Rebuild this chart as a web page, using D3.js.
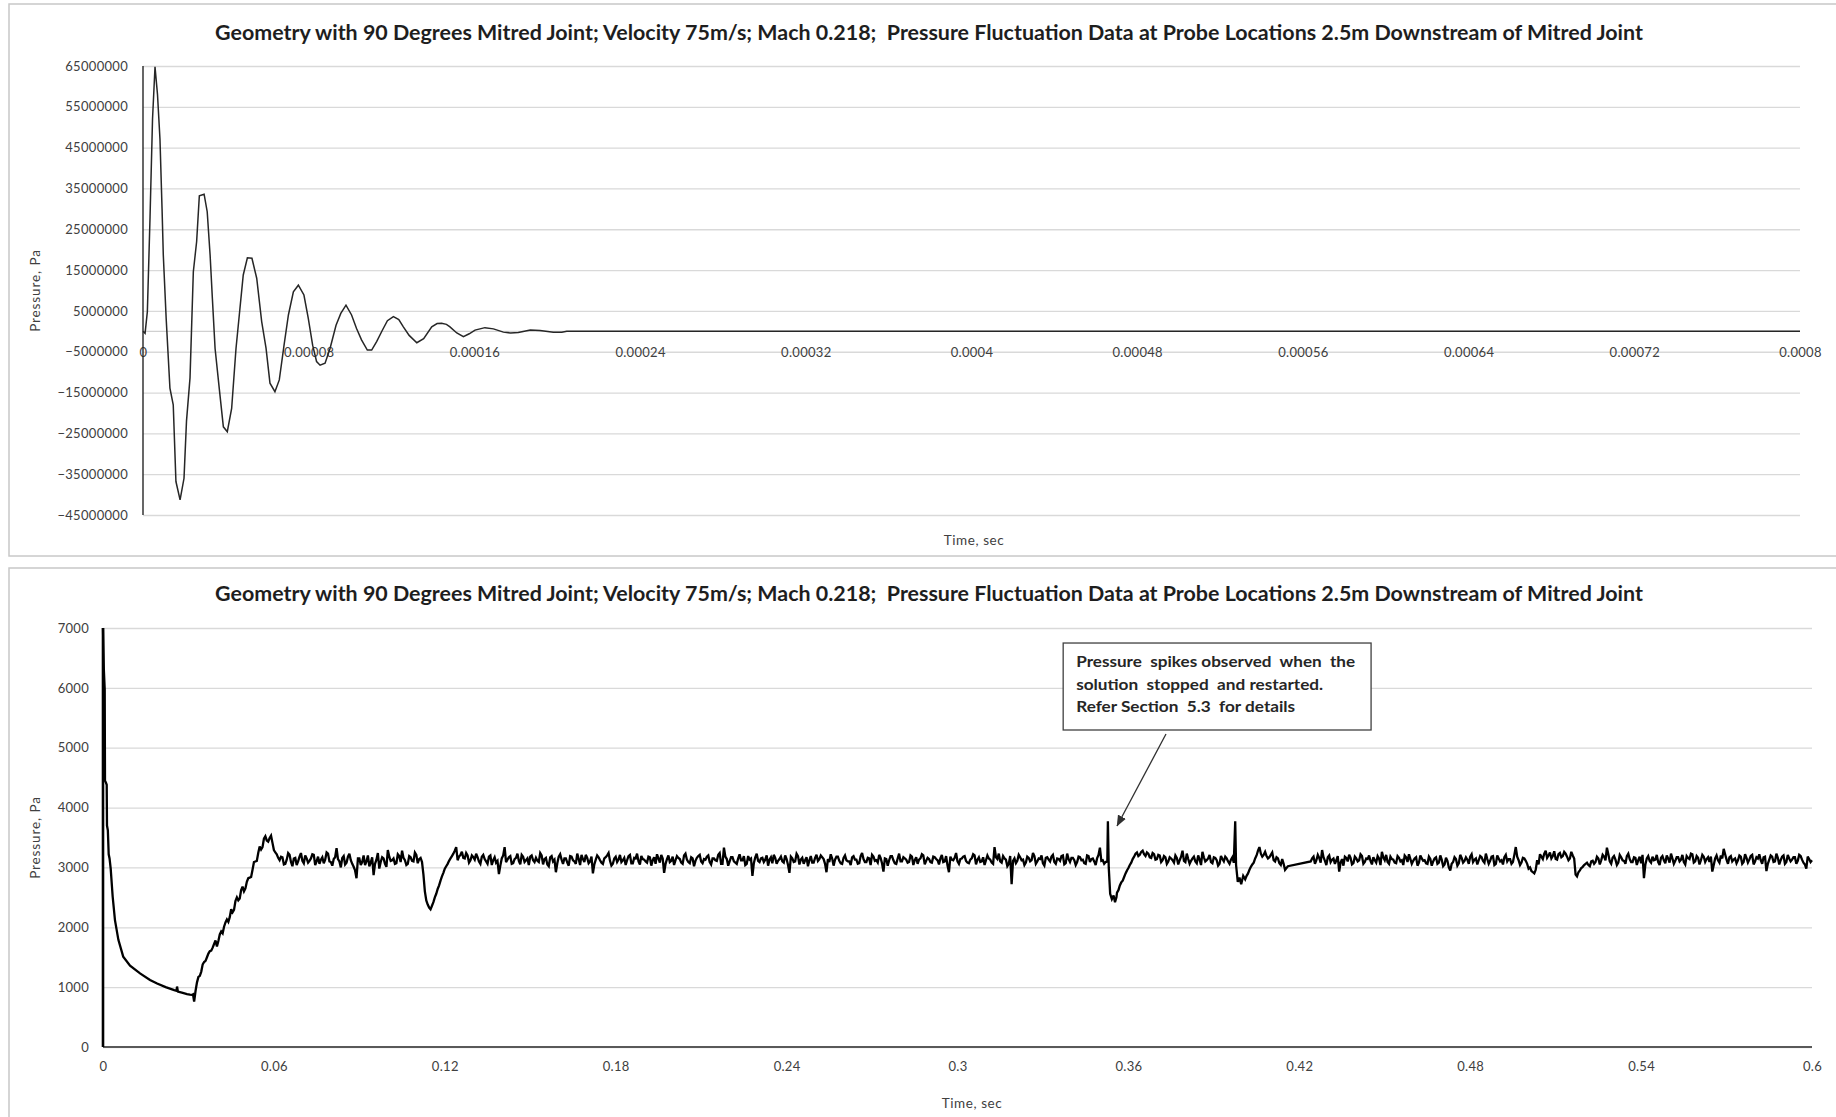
<!DOCTYPE html>
<html>
<head>
<meta charset="utf-8">
<script src="https://cdn.jsdelivr.net/npm/d3@7"></script>
<style>
body { margin: 0; background: #fff; }
text { font-family: Lato, "Open Sans", sans-serif; }
</style>
</head>
<body>
<svg id="chart" width="1836" height="1117"></svg>
<script>
var chartTitle = "Geometry with 90 Degrees Mitred Joint; Velocity 75m/s; Mach 0.218;  Pressure Fluctuation Data at Probe Locations 2.5m Downstream of Mitred Joint";

// ##### UPPER CHART DATA (time in microseconds, pressure in MPa) #####
var upperXTickLabels = ["0", "0.00008", "0.00016", "0.00024", "0.00032", "0.0004", "0.00048", "0.00056", "0.00064", "0.00072", "0.0008"];
var upperYTicks = [-45000000, -35000000, -25000000, -15000000, -5000000, 5000000, 15000000, 25000000, 35000000, 45000000, 55000000, 65000000];
var upperTimeUs = [0, 1.0, 2.1, 3.4, 4.6, 5.8, 7.0, 8.2, 9.2, 9.8,
    11.2, 13.0, 14.6, 15.9, 17.9, 19.8, 21.0, 22.7, 24.3, 25.9,
    27.2, 29.5, 31.0, 32.4, 33.5, 34.8, 36.8, 38.8, 40.7, 42.8,
    44.9, 46.8, 48.4, 50.4, 52.6, 54.9, 57.3, 59.4, 61.3, 63.7,
    65.8, 68.1, 70.2, 72.6, 75.0, 77.7, 79.8, 81.9, 83.8, 85.5,
    87.9, 90.3, 93.2, 95.5, 98.0, 100.7, 103.1, 105.5, 108.3, 110.4,
    112.8, 115.5, 118.0, 120.9, 123.5, 125.7, 128.5, 132.2, 135.5, 139.4,
    142.0, 144.2, 146.5, 148.2, 151.5, 154.7, 157.5, 160.3, 165.1, 169.2,
    174.0, 177.5, 181.2, 187.0, 191.7, 198.1, 202.2, 204.6, 220, 300,
    400, 500, 600, 700, 800];
var upperPressureMPa = [0, -0.5, 4.8, 28, 52, 64.8, 58, 47, 30, 18.7,
    3, -13.9, -18, -36.8, -41.3, -36, -22, -11.4, 14.6, 22,
    33.2, 33.6, 29.3, 18.7, 8, -4.2, -13.9, -23.4, -24.6, -18.9,
    -4.2, 5.6, 13.8, 18, 17.9, 13, 2.4, -4.1, -12.7, -14.8,
    -11.9, -3.4, 4, 9.7, 11.3, 8.9, 3.2, -3.4, -7.4, -8.3,
    -7.8, -4.2, 1.5, 4.4, 6.4, 4, 0.7, -2.1, -4.6, -4.6,
    -2.5, 0.2, 2.6, 3.6, 2.9, 1.1, -1.0, -2.8, -1.8, 1.1,
    1.9, 2.0, 1.7, 1.1, -0.4, -1.3, -0.6, 0.3, 0.9, 0.6,
    -0.2, -0.4, -0.3, 0.3, 0.2, -0.2, -0.25, 0, 0, 0,
    0, 0, 0, 0, 0];

// ##### LOWER CHART DATA (time in s, pressure in Pa) #####
var lowerXTickLabels = ["0", "0.06", "0.12", "0.18", "0.24", "0.3", "0.36", "0.42", "0.48", "0.54", "0.6"];
var lowerYTicks = [0, 1000, 2000, 3000, 4000, 5000, 6000, 7000];
var sampleStep = 0.001;

var startupTime = [0, 0.0003, 0.0006, 0.0007, 0.0010, 0.0013, 0.0014, 0.0017, 0.0020, 0.0023,
    0.0027, 0.0034, 0.0042, 0.0054, 0.0071, 0.0095, 0.0130, 0.0165, 0.0190, 0.0220,
    0.0250, 0.0258, 0.0260, 0.0263, 0.0280, 0.0295, 0.0305, 0.0312, 0.0316];
var startupPressure = [7000, 6300, 5980, 4450, 4420, 4380, 3700, 3620, 3220, 3150,
    2980, 2510, 2120, 1790, 1510, 1360, 1230, 1120, 1060, 1000,
    950, 940, 1010, 925, 905, 885, 875, 870, 880];

// run A: 0.032 s .. 0.352 s, on-step and half-step samples
var runAStart = 0.032;
var runAPressure = [760, 1080, 1190, 1380, 1440, 1560, 1610, 1720, 1680, 1880,
    1900, 2080, 2090, 2300, 2290, 2500, 2480, 2680, 2650, 2820,
    2840, 3090, 3110, 3350, 3340, 3520, 3430, 3530, 3290, 3220,
    3120, 3170, 3060, 3240, 3090, 3150, 3040, 3180, 3110, 3200,
    3080, 3150, 3210, 3100, 3060, 3170, 3130, 3230, 3090, 3140,
    3320, 3100, 3160, 3050, 3180, 3120, 3010, 2820, 3150, 3090,
    3040, 3200, 3080, 2870, 3130, 2980, 3170, 3060, 3290, 3110,
    3150, 3070, 3190, 3280, 3120, 3060, 3170, 3100, 3210, 3140,
    3090, 2600, 2380, 2300, 2420, 2560, 2700, 2850, 2980, 3060,
    3150, 3230, 3340, 3180, 3260, 3150, 3200, 3120, 3170, 3230,
    3100, 3180, 3140, 3060, 3200, 3120, 3080, 2890, 3150, 3340,
    3130, 3190, 3070, 3160, 3110, 3210, 3090, 3150, 3180, 3120,
    3160, 3090, 3200, 3140, 3050, 3170, 3100, 2920, 3180, 3130,
    3150, 3080, 3190, 3120, 3060, 3140, 3210, 3090, 3160, 3100,
    2900, 3130, 3170, 3080, 3150, 3200, 3110, 3060, 3180, 3130,
    3090, 3160, 3120, 3210, 3070, 3150, 3100, 3190, 3130, 3080,
    3170, 3120, 3060, 3150, 3210, 2910, 3140, 3090, 3180, 3120,
    3160, 3080, 3200, 3130, 3070, 3150, 3110, 3190, 3100, 3140,
    3180, 3090, 3150, 3120, 3210, 3060, 3330, 3140, 3100, 3170,
    3080, 3150, 3120, 3190, 3060, 3130, 2860, 3170, 3110, 3150,
    3090, 3200, 3130, 3070, 3160, 3110, 3180, 3080, 3140, 2910,
    3150, 3100, 3190, 3130, 3060, 3170, 3120, 3080, 3160, 3110,
    3200, 3140, 2920, 3090, 3150, 3130, 3180, 3070, 3160, 3120,
    3100, 3170, 3130, 3060, 3190, 3140, 3090, 3150, 3210, 3110,
    3080, 3160, 2930, 3140, 3120, 3190, 3070, 3150, 3100, 3170,
    3130, 3090, 3180, 3120, 3060, 3150, 3200, 3110, 3140, 3080,
    3170, 3120, 3150, 3090, 3190, 2920, 3130, 3160, 3100, 3140,
    3180, 3110, 3070, 3150, 3200, 3130, 3090, 3170, 3120, 3150,
    3080, 3340, 3140, 3100, 3190, 3130, 3060, 2720, 3150, 3110,
    3170, 3130, 3080, 3160, 3120, 3190, 3100, 3140, 3070, 3160,
    3130, 3180, 3090, 3150, 3110, 3200, 3070, 3140, 3160, 3120,
    3090, 3170, 3130, 3060, 3190, 3140, 3100, 3150, 3330, 3120,
    3090];
var runAMidStart = 0.0325;
var runAMidPressure = [940, 1170, 1260, 1420, 1500, 1600, 1660, 1780, 1770, 1930,
    2010, 2130, 2170, 2250, 2440, 2450, 2620, 2600, 2760, 2830,
    2960, 3100, 3240, 3300, 3480, 3450, 3490, 3410, 3250, 3160,
    3180, 3050, 3130, 3210, 3020, 3160, 3100, 3240, 3070, 3150,
    3110, 3220, 3040, 3180, 3130, 3070, 3250, 3100, 3030, 3170,
    3140, 3000, 3190, 3080, 3230, 3060, 2950, 3150, 3040, 3200,
    3100, 3020, 3170, 3060, 3240, 3090, 3150, 3010, 3180, 3120,
    3060, 3220, 3090, 3160, 3040, 3190, 3110, 3250, 3070, 3160,
    2880, 2450, 2330, 2360, 2500, 2640, 2780, 2910, 3020, 3110,
    3190, 3280, 3120, 3210, 3160, 3240, 3080, 3200, 3130, 3170,
    3060, 3210, 3100, 3180, 3040, 3170, 3110, 3030, 3200, 3090,
    3170, 3060, 3140, 3230, 3050, 3180, 3120, 3040, 3200, 3090,
    3110, 3240, 3050, 3160, 3020, 3190, 3130, 3070, 3220, 3060,
    3150, 3030, 3180, 3100, 3230, 3040, 3140, 3210, 3070, 3180,
    3050, 3200, 3120, 3060, 3170, 3240, 3030, 3150, 3090, 3210,
    3120, 3040, 3190, 3070, 3160, 3230, 3050, 3140, 3100, 3180,
    3030, 3170, 3220, 3080, 3150, 3060, 3200, 3110, 3040, 3190,
    3140, 3060, 3230, 3090, 3170, 3020, 3160, 3210, 3070, 3130,
    3200, 3050, 3150, 3110, 3240, 3060, 3180, 3030, 3170, 3100,
    3060, 3220, 3120, 3040, 3190, 3150, 3070, 3230, 3090, 3160,
    3130, 3030, 3170, 3210, 3060, 3140, 3100, 3200, 3040, 3180,
    3090, 3230, 3050, 3160, 3120, 3020, 3190, 3080, 3210, 3140,
    3170, 3060, 3140, 3220, 3030, 3180, 3110, 3060, 3200, 3100,
    3040, 3190, 3130, 3070, 3240, 3090, 3160, 3040, 3180, 3120,
    3210, 3070, 3150, 3030, 3190, 3120, 3060, 3230, 3100, 3150,
    3080, 3200, 3040, 3170, 3130, 3220, 3050, 3160, 3090, 3180,
    3140, 3050, 3210, 3100, 3030, 3180, 3120, 3240, 3060, 3150,
    3190, 3080, 3130, 3220, 3050, 3170, 3100, 3040, 3200, 3130,
    3060, 3170, 3230, 3080, 3150, 3020, 3190, 3110, 3070, 3210,
    3120, 3040, 3180, 3100, 3240, 3060, 3150, 3200, 3030, 3170,
    3100, 3210, 3060, 3140, 3190, 3050, 3230, 3090, 3160, 3040,
    3180, 3120, 3070, 3200, 3090, 3150, 3040, 3210, 3110, 3060];

var spike1Time = [0.3526, 0.3528, 0.3531, 0.3536, 0.3542, 0.3548, 0.3553, 0.3558];
var spike1Pressure = [3100, 3770, 3000, 2560, 2470, 2530, 2420, 2500];

// run B: 0.356 s .. 0.397 s
var runBStart = 0.356;
var runBPressure = [2580, 2700, 2780, 2900, 2990, 3080, 3180, 3250, 3210, 3280,
    3190, 3230, 3160, 3220, 3140, 3200, 3120, 3170, 3100, 3150,
    3080, 3160, 3120, 3280, 3090, 3140, 3110, 3180, 3070, 3130,
    3260, 3100, 3150, 3090, 3170, 3120, 3060, 3140, 3180, 3100,
    3130, 3080];
var runBMidStart = 0.3565;
var runBMidPressure = [2620, 2750, 2840, 2950, 3040, 3140, 3230, 3190, 3260, 3220,
    3250, 3170, 3240, 3130, 3210, 3090, 3190, 3060, 3170, 3120,
    3200, 3050, 3180, 3110, 3230, 3060, 3150, 3100, 3200, 3040,
    3170, 3120, 3210, 3070, 3160, 3030, 3190, 3100, 3150, 3060,
    3170];

var spike2Time = [0.3975, 0.3978, 0.3984, 0.3990, 0.3996, 0.4003];
var spike2Pressure = [3770, 3040, 2760, 2830, 2720, 2860];

// run C: 0.401 s .. 0.416 s
var runCStart = 0.401;
var runCPressure = [2800, 2900, 3010, 3080, 3200, 3340, 3180, 3260, 3150, 3210,
    3120, 3170, 3070, 3140, 2960, 3020];
var runCMidStart = 0.4015;
var runCMidPressure = [2860, 2960, 3050, 3150, 3280, 3230, 3210, 3190, 3170, 3250,
    3100, 3150, 3040, 3060, 2990];

// run D: 0.424 s .. 0.600 s
var runDStart = 0.424;
var runDPressure = [3100, 3180, 3120, 3160, 3290, 3110, 3170, 3090, 3150, 3120,
    2930, 3140, 3180, 3100, 3160, 3070, 3150, 3120, 3190, 3090,
    3140, 3110, 3170, 3080, 3150, 3260, 3120, 3090, 3180, 3130,
    3070, 3160, 3120, 3200, 3090, 3140, 3110, 3170, 3080, 3150,
    3120, 3060, 3140, 3100, 3170, 3080, 3130, 3050, 3110, 2950,
    3090, 3140, 3070, 3160, 3110, 3130, 3180, 3090, 3150, 3120,
    3170, 3080, 3140, 3110, 3190, 3060, 3150, 3120, 3170, 3100,
    3140, 3090, 3340, 3120, 3080, 3150, 3060, 3000, 2920, 2960,
    3050, 3180, 3230, 3160, 3250, 3190, 3140, 3220, 3170, 3260,
    3180, 3150, 3200, 2880, 2920, 2990, 3040, 3080, 3020, 3110,
    3090, 3150, 3120, 3180, 3330, 3100, 3160, 3130, 3080, 3170,
    3110, 3190, 3140, 3090, 3160, 3120, 3070, 2820, 3150, 3110,
    3180, 3130, 3090, 3160, 3120, 3200, 3080, 3150, 3110, 3170,
    3130, 3090, 3190, 3140, 3220, 3100, 3160, 3120, 3180, 3140,
    3090, 2930, 3150, 3120, 3200, 3310, 3130, 3170, 3100, 3150,
    3120, 3180, 3090, 3160, 3130, 3210, 3100, 3150, 3120, 3170,
    2940, 3130, 3180, 3100, 3160, 3120, 3200, 3090, 3150, 3130,
    3170, 3110, 3190, 3080, 2980, 3140, 3120];
var runDMidStart = 0.4245;
var runDMidPressure = [3150, 3060, 3210, 3080, 3170, 3040, 3200, 3130, 3060, 3190,
    3080, 3030, 3160, 3210, 3050, 3180, 3100, 3220, 3060, 3150,
    3200, 3050, 3120, 3190, 3040, 3170, 3210, 3060, 3140, 3080,
    3190, 3100, 3040, 3170, 3220, 3060, 3150, 3030, 3200, 3110,
    3070, 3180, 3030, 3150, 3060, 3200, 3020, 3160, 3000, 3060,
    3170, 3030, 3210, 3080, 3170, 3060, 3220, 3130, 3050, 3190,
    3110, 3230, 3060, 3180, 3040, 3200, 3100, 3050, 3210, 3140,
    3060, 3210, 3180, 3040, 3160, 3110, 2980, 2940, 2900, 3120,
    3220, 3140, 3280, 3200, 3150, 3270, 3130, 3240, 3190, 3230,
    3120, 3260, 3150, 2850, 2950, 3010, 3060, 3040, 3100, 3060,
    3180, 3050, 3210, 3120, 3220, 3060, 3190, 3040, 3210, 3120,
    3060, 3230, 3090, 3170, 3040, 3180, 3210, 3050, 3190, 3080,
    3120, 3210, 3040, 3190, 3070, 3150, 3230, 3060, 3170, 3100,
    3210, 3050, 3160, 3230, 3080, 3190, 3050, 3210, 3090, 3170,
    3180, 3040, 3200, 3080, 3150, 3220, 3060, 3190, 3130, 3070,
    3200, 3060, 3220, 3080, 3190, 3050, 3170, 3220, 3060, 3180,
    3060, 3200, 3090, 3230, 3050, 3180, 3060, 3210, 3100, 3170,
    3060, 3210, 3130, 3050, 3180, 3090];

var annotationLines = ["Pressure  spikes observed  when  the", "solution  stopped  and restarted.", "Refer Section  5.3  for details"];
var annotationBox = {t0: 0.3371, t1: 0.4452, p0: 5296, p1: 6749};
var annotationArrow = {fromT: 0.3732, fromP: 5229, toT: 0.3560, toP: 3692};


function pairs(times, values) {
    return values.map(function(p, i) { return {t: times[i], p: p}; });
}

function run(start, values) {
    return values.map(function(p, i) { return {t: start + i * sampleStep, p: p}; });
}

var upperPoints = upperTimeUs.map(function(t, i) {
    return {t: t * 1e-6, p: upperPressureMPa[i] * 1e6};
});

var lowerPoints = [].concat(
    pairs(startupTime, startupPressure),
    run(runAStart, runAPressure), run(runAMidStart, runAMidPressure),
    pairs(spike1Time, spike1Pressure),
    run(runBStart, runBPressure), run(runBMidStart, runBMidPressure),
    pairs(spike2Time, spike2Pressure),
    run(runCStart, runCPressure), run(runCMidStart, runCMidPressure),
    run(runDStart, runDPressure), run(runDMidStart, runDMidPressure)
).sort(function(a, b) { return a.t - b.t; });

var svg = d3.select("#chart");

svg.append("defs").append("marker")
    .attr("id", "arrowHead")
    .attr("viewBox", "0 0 11 9")
    .attr("markerUnits", "userSpaceOnUse")
    .attr("markerWidth", 11).attr("markerHeight", 9)
    .attr("refX", 10.5).attr("refY", 4.5)
    .attr("orient", "auto")
    .append("path").attr("d", "M0,0L11,4.5L0,9Z").attr("fill", "#303030");

function drawPanel(opt) {
    var g = svg.append("g");

    // ##### FRAME #####
    g.append("rect")
        .attr("x", opt.frame[0]).attr("y", opt.frame[1])
        .attr("width", opt.frame[2]).attr("height", opt.frame[3])
        .attr("fill", "#fff").attr("stroke", "#c8c8c8").attr("stroke-width", 1.5);

    // ##### TITLE #####
    var title = g.append("text")
        .attr("x", 929).attr("y", opt.titleY)
        .attr("text-anchor", "middle")
        .style("white-space", "pre")
        .style("font-weight", "bold")
        .style("font-size", "20px")
        .attr("fill", "#1e1e1e")
        .text(chartTitle);
    var len = title.node().getComputedTextLength();
    title.style("font-size", (20 * 1429 / len) + "px");

    var x = d3.scaleLinear().domain(opt.xDomain).range([opt.left, opt.right]);
    var y = d3.scaleLinear().domain(opt.yDomain).range([opt.bottom, opt.top]);

    // ##### GRID + Y LABELS #####
    var yAxis = g.append("g")
        .attr("transform", "translate(" + opt.left + ",0)")
        .call(d3.axisLeft(y).tickValues(opt.yTicks).tickSize(-(opt.right - opt.left))
            .tickPadding(opt.yPad).tickFormat(d3.format("d")));
    yAxis.select(".domain").remove();
    yAxis.selectAll("line").attr("stroke", "#d9d9d9").attr("stroke-width", 1.3);
    yAxis.selectAll("text")
        .style("font-family", "Lato, sans-serif").style("font-size", "13px")
        .style("letter-spacing", "0.3px").attr("fill", "#404040");

    // ##### X AXIS #####
    var xAxis = g.append("g")
        .attr("transform", "translate(0," + y(0) + ")")
        .call(d3.axisBottom(x)
            .tickValues(opt.xLabels.map(Number))
            .tickFormat(function(d, i) { return opt.xLabels[i]; })
            .tickSize(0).tickPadding(opt.xPad));
    xAxis.select(".domain").remove();
    xAxis.selectAll("text")
        .style("font-family", "Lato, sans-serif").style("font-size", "13px")
        .style("letter-spacing", "0.3px").attr("fill", "#404040");

    g.append("line")
        .attr("x1", opt.left).attr("x2", opt.right)
        .attr("y1", y(0)).attr("y2", y(0))
        .attr("stroke", opt.xAxisColor).attr("stroke-width", opt.xAxisWidth);

    // ##### SERIES #####
    var line = d3.line()
        .x(function(d) { return x(d.t); })
        .y(function(d) { return y(d.p); });
    g.append("path")
        .datum(opt.points)
        .attr("d", line)
        .attr("fill", "none")
        .attr("stroke", opt.lineColor)
        .attr("stroke-width", opt.lineWidth)
        .attr("stroke-linejoin", "miter")
        .attr("stroke-miterlimit", 3);

    g.append("line")
        .attr("x1", opt.left).attr("x2", opt.left)
        .attr("y1", opt.top).attr("y2", opt.bottom)
        .attr("stroke", opt.yAxisColor).attr("stroke-width", opt.yAxisWidth);

    // ##### AXIS TITLES #####
    g.append("text")
        .attr("x", opt.xTitle[0]).attr("y", opt.xTitle[1])
        .attr("text-anchor", "middle")
        .style("font-size", "13.5px").style("letter-spacing", "0.6px")
        .attr("fill", "#404040")
        .text("Time, sec");
    g.append("text")
        .attr("transform", "translate(40," + ((opt.top + opt.bottom) / 2) + ") rotate(-90)")
        .attr("text-anchor", "middle")
        .style("font-size", "13.5px").style("letter-spacing", "0.9px")
        .attr("fill", "#404040")
        .text("Pressure, Pa");

    return {g: g, x: x, y: y};
}

drawPanel({
    frame: [9, 4, 1840, 552], titleY: 40,
    left: 143, right: 1800, top: 66, bottom: 515,
    xDomain: [0, 0.0008], yDomain: [-45000000, 65000000],
    yTicks: upperYTicks, xLabels: upperXTickLabels, yPad: 15, xPad: 16,
    xAxisColor: "#d0d0d0", xAxisWidth: 1.3, yAxisColor: "#262626", yAxisWidth: 1.4,
    lineColor: "#262626", lineWidth: 1.5,
    points: upperPoints, xTitle: [974, 545]
});

var lower = drawPanel({
    frame: [9, 568, 1840, 560], titleY: 601,
    left: 103, right: 1812, top: 628, bottom: 1047,
    xDomain: [0, 0.6], yDomain: [0, 7000],
    yTicks: lowerYTicks, xLabels: lowerXTickLabels, yPad: 14, xPad: 15,
    xAxisColor: "#595959", xAxisWidth: 2.2, yAxisColor: "#000", yAxisWidth: 2.6,
    lineColor: "#000", lineWidth: 2.3,
    points: lowerPoints, xTitle: [972, 1108]
});

// ##### ANNOTATION #####
var bx0 = lower.x(annotationBox.t0), bx1 = lower.x(annotationBox.t1);
var by0 = lower.y(annotationBox.p1), by1 = lower.y(annotationBox.p0);
lower.g.append("rect")
    .attr("x", bx0).attr("y", by0)
    .attr("width", bx1 - bx0).attr("height", by1 - by0)
    .attr("fill", "#fff").attr("stroke", "#404040").attr("stroke-width", 1.3);

var lineWidths = [279, 247, 219];
annotationLines.forEach(function(s, i) {
    lower.g.append("text")
        .attr("x", bx0 + 13).attr("y", by0 + 24 + i * 22.5)
        .style("white-space", "pre")
        .style("font-weight", "bold").style("font-size", "15px")
        .attr("textLength", lineWidths[i]).attr("lengthAdjust", "spacingAndGlyphs")
        .attr("fill", "#262626")
        .text(s);
});

lower.g.append("line")
    .attr("x1", lower.x(annotationArrow.fromT)).attr("y1", lower.y(annotationArrow.fromP))
    .attr("x2", lower.x(annotationArrow.toT)).attr("y2", lower.y(annotationArrow.toP))
    .attr("stroke", "#303030").attr("stroke-width", 1.3)
    .attr("marker-end", "url(#arrowHead)");
</script>
</body>
</html>
